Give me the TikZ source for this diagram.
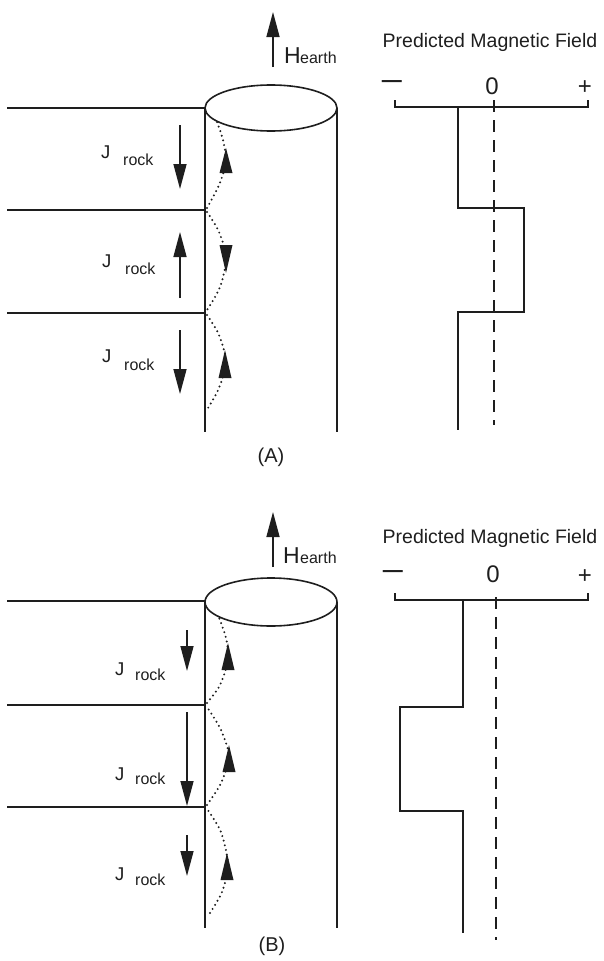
\documentclass[tikz,border=0pt]{standalone}
\usepackage{fontspec}
\setmainfont{Liberation Sans}
\usetikzlibrary{arrows.meta}
\definecolor{ink}{RGB}{30,30,30}
\begin{document}
\begin{tikzpicture}[x=1pt,y=-1pt,
  line/.style={draw=ink,line width=1.6pt},
  bigarrow/.style={draw=ink,line width=1.5pt,-{Triangle[length=25pt,width=13pt]}},
  dots/.style={draw=ink,line width=2.2pt,line cap=round,dash pattern=on 0pt off 4.8pt},
  head/.style={fill=ink},
  zeroline/.style={draw=ink,line width=1.6pt,dash pattern=on 12pt off 8pt},
  txt/.style={inner sep=0pt,text=ink},
  titletxt/.style={txt,font=\fontsize{19.5}{23}\selectfont,anchor=base},
  jtxt/.style={txt,font=\fontsize{18.5}{22}\selectfont,anchor=base west},
  subtxt/.style={txt,font=\fontsize{16}{19}\selectfont,anchor=base west},
  htxt/.style={txt,font=\fontsize{23}{27}\selectfont,anchor=base west},
  axtxt/.style={txt,font=\fontsize{24}{28}\selectfont},
  labtxt/.style={txt,font=\fontsize{20}{24}\selectfont}
]
\useasboundingbox (0,0) rectangle (604,961);

% ===================== Panel A =====================
% H earth
\coordinate (hA0) at (273,67);
\coordinate (hA1) at (273,12);
\draw[bigarrow] (hA0) -- (hA1);
\node[htxt] (HA) at (284,63) {H};
\node[subtxt] (eA) at (300,63) {earth};

% cylinder
\draw[line] (271,108) ellipse [x radius=66, y radius=23];
\draw[line] (205,108) -- (205,432);
\draw[line] (337,108) -- (337,432);

% layer boundaries
\draw[line] (7,108) -- (205,108);
\draw[line] (7,210) -- (205,210);
\draw[line] (7,313) -- (205,313);

% J rock labels and arrows
\node[jtxt] (jA1) at (101,158) {J};
\node[subtxt] (rA1) at (123,165) {rock};
\draw[bigarrow] (180,125) -- (180,189);
\node[jtxt] (jA2) at (102,267) {J};
\node[subtxt] (rA2) at (125,274) {rock};
\draw[bigarrow] (180,298) -- (180,232);
\node[jtxt] (jA3) at (102,362) {J};
\node[subtxt] (rA3) at (124,370) {rock};
\draw[bigarrow] (180,330) -- (180,394);

% dotted field lines
\draw[dots] plot[smooth] coordinates {(207,208) (219,185) (226,162) (223,140) (217,122)};
\fill[head] (219.5,173) -- (232.5,173) -- (226,148) -- cycle;
\draw[dots] plot[smooth] coordinates {(207,212) (219,232) (226,258) (220,287) (207,310)};
\fill[head] (219.5,245) -- (232.5,245) -- (226,273) -- cycle;
\draw[dots] plot[smooth] coordinates {(207,315) (219,335) (226,362) (219,388) (208,408)};
\fill[head] (218.5,378) -- (231.5,378) -- (225,350) -- cycle;

\node[labtxt] (labA) at (271,457) {(A)};

% plot A
\node[titletxt] (tA) at (490,47) {Predicted Magnetic Field};
\node[axtxt,anchor=base] (mA) at (392,89.5) {\scalebox{1.5}[1.3]{–}};
\node[axtxt] (zA) at (492,86) {0};
\node[axtxt] (pA) at (585,88) {+};
\draw[line] (395,100) -- (395,107) -- (588,107) -- (588,100);
\draw[zeroline] (494,100) -- (494,425);
\draw[line] (458,107) -- (458,208) -- (524,208) -- (524,312) -- (458,312) -- (458,430);

% ===================== Panel B =====================
\coordinate (hB0) at (273,567);
\coordinate (hB1) at (273,512);
\draw[bigarrow] (hB0) -- (hB1);
\node[htxt] (HB) at (283,563) {H};
\node[subtxt] (eB) at (300,563) {earth};

\draw[line] (271,602) ellipse [x radius=66, y radius=24];
\draw[line] (205,602) -- (205,928);
\draw[line] (337,602) -- (337,928);

\draw[line] (7,601) -- (205,601);
\draw[line] (7,705) -- (205,705);
\draw[line] (7,807) -- (205,807);

\node[jtxt] (jB1) at (115,675) {J};
\node[subtxt] (rB1) at (135,680) {rock};
\draw[bigarrow] (187,630) -- (187,671);
\node[jtxt] (jB2) at (115,780) {J};
\node[subtxt] (rB2) at (135,784) {rock};
\draw[bigarrow] (187,712) -- (187,806);
\node[jtxt] (jB3) at (115,880) {J};
\node[subtxt] (rB3) at (135,885) {rock};
\draw[bigarrow] (187,835) -- (187,876);

\draw[dots] plot[smooth] coordinates {(207,703) (220,685) (228,660) (226,638) (218,615)};
\fill[head] (221.5,670) -- (234.5,670) -- (228,643) -- cycle;
\draw[dots] plot[smooth] coordinates {(207,805) (221,783) (229,757) (221,730) (207,707)};
\fill[head] (222.5,772) -- (235.5,772) -- (229,745) -- cycle;
\draw[dots] plot[smooth] coordinates {(210,913) (222,892) (228,865) (221,832) (207,809)};
\fill[head] (220.5,880) -- (233.5,880) -- (227,853) -- cycle;

\node[labtxt] (labB) at (272,946) {(B)};

\node[titletxt] (tB) at (490,543) {Predicted Magnetic Field};
\node[axtxt,anchor=base] (mB) at (393,579.5) {\scalebox{1.5}[1.3]{–}};
\node[axtxt] (zB) at (493,574) {0};
\node[axtxt] (pB) at (585,577) {+};
\draw[line] (395,593) -- (395,600) -- (588,600) -- (588,593);
\draw[zeroline] (496,597) -- (496,940);
\draw[line] (463,600) -- (463,707) -- (400,707) -- (400,811) -- (463,811) -- (463,933);
\end{tikzpicture}
\end{document}
